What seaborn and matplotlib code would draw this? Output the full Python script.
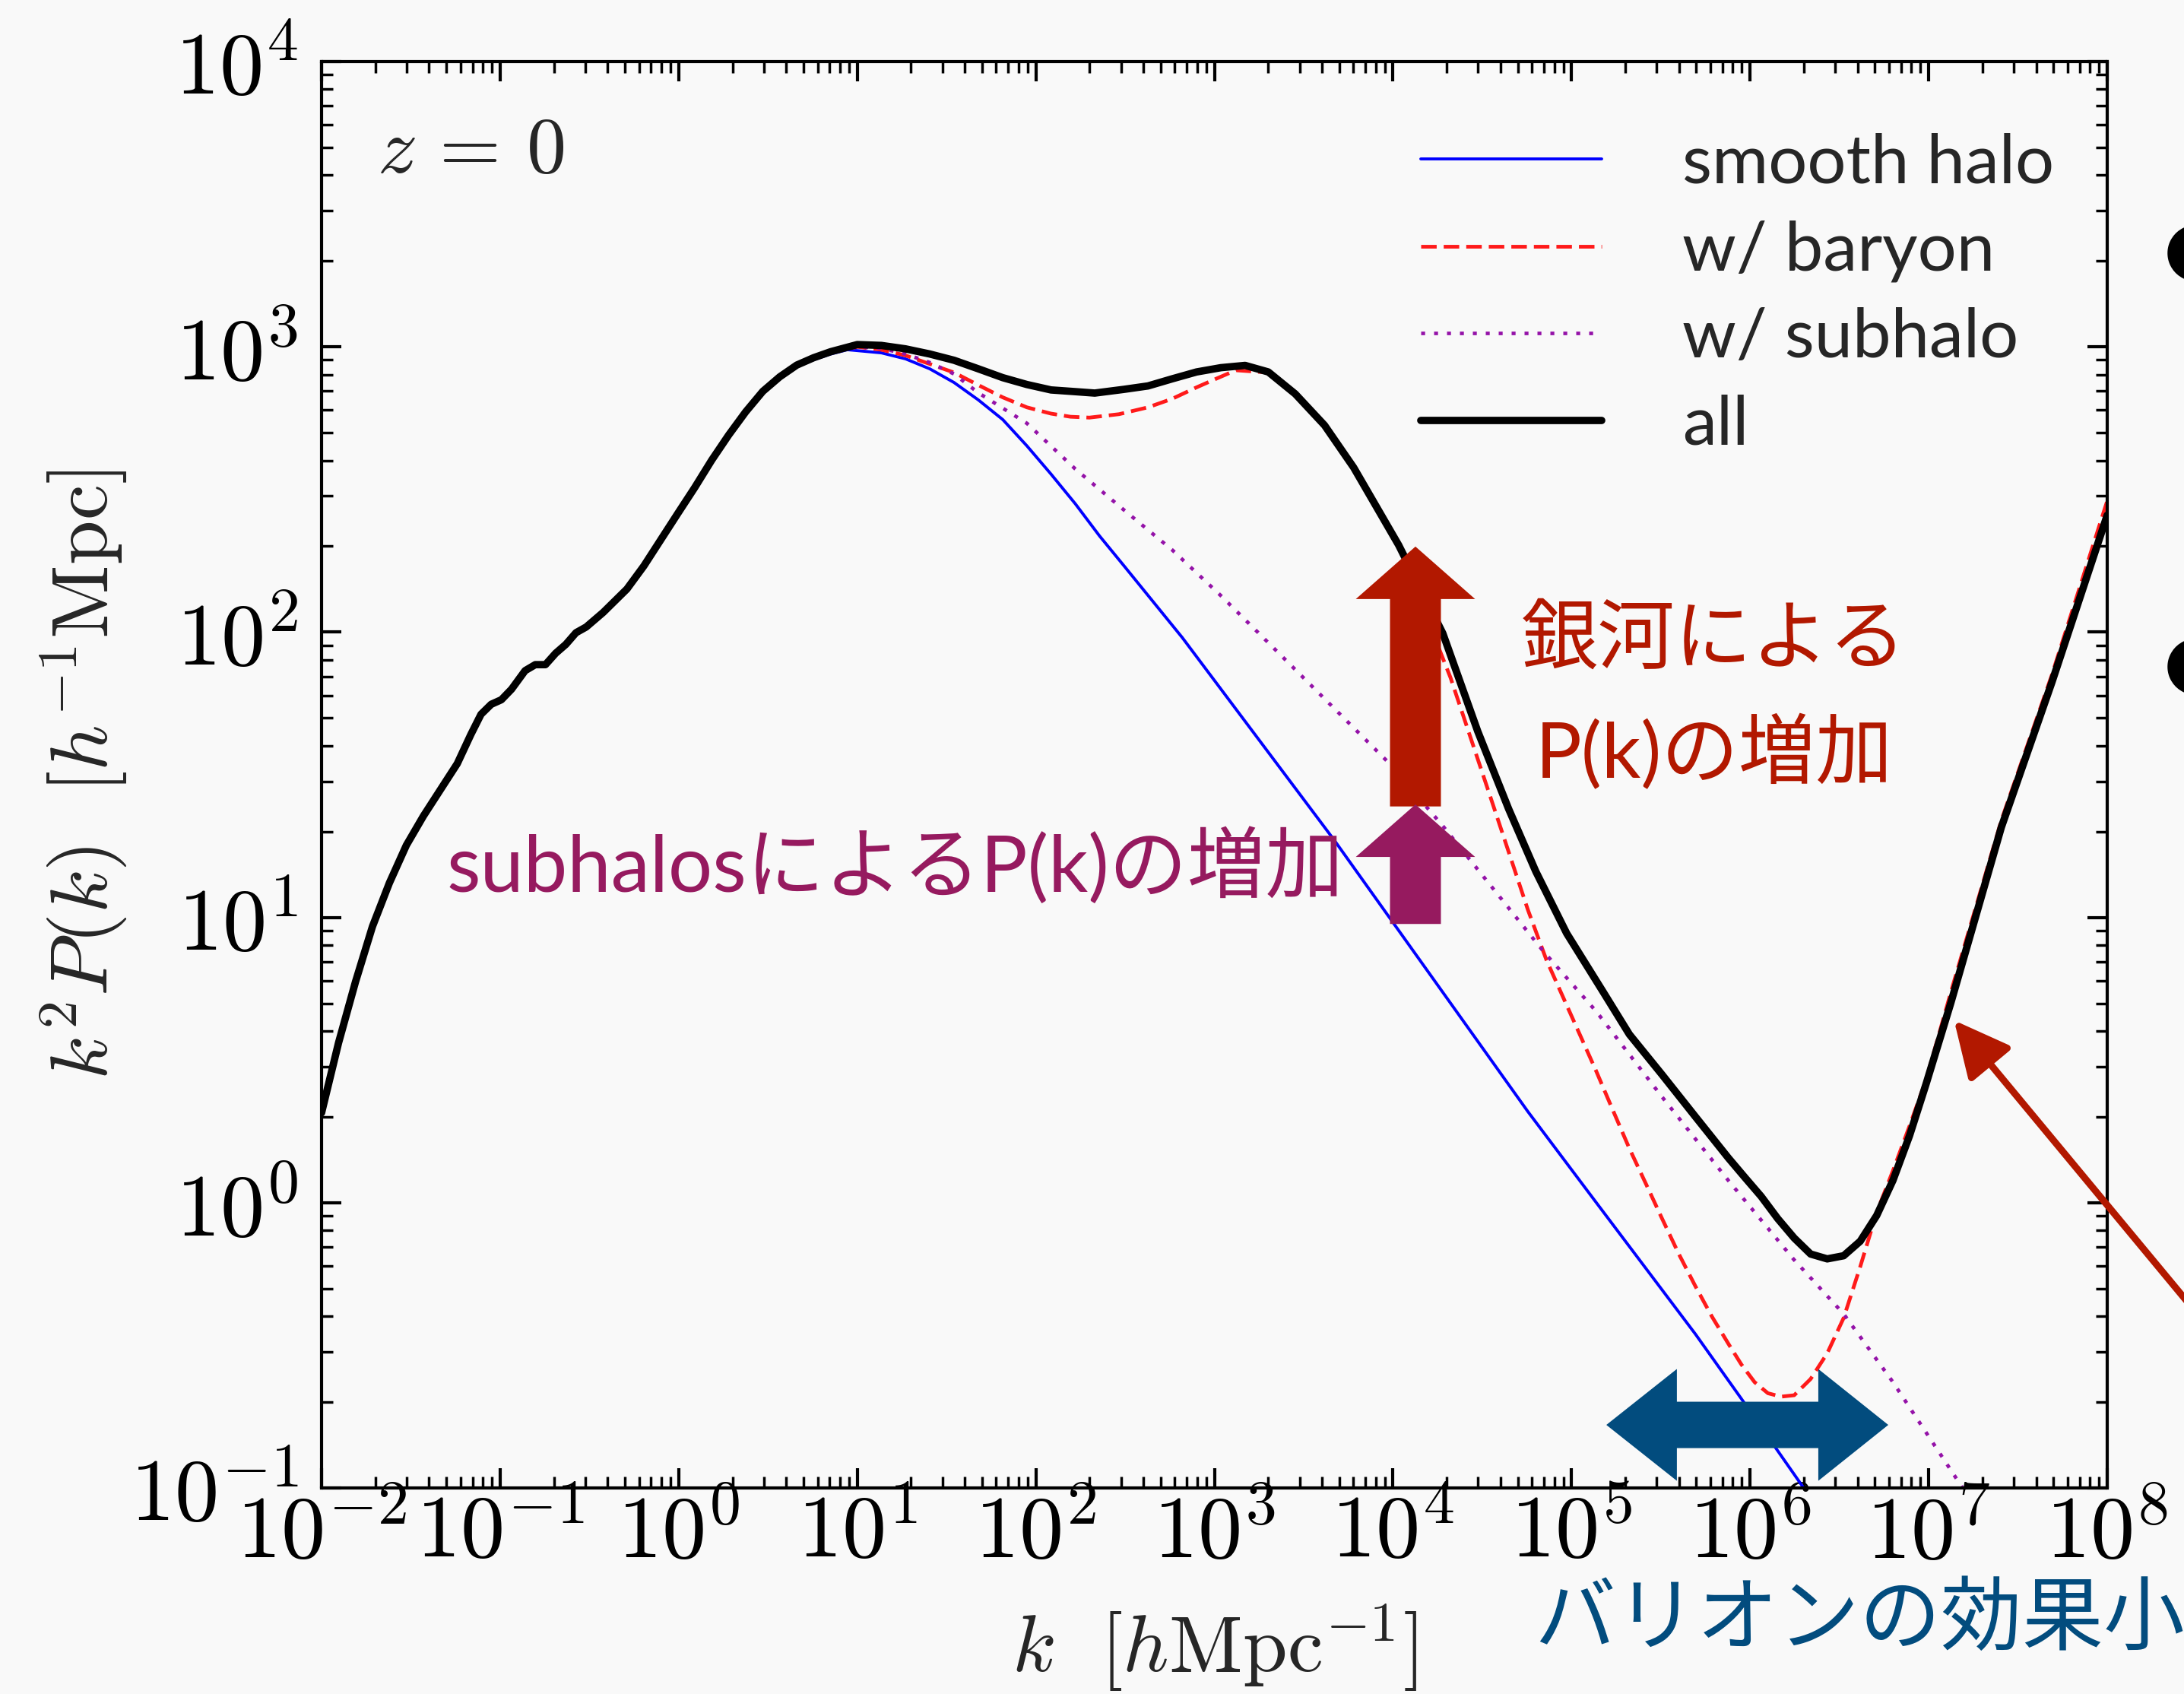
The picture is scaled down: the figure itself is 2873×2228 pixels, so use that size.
import numpy as np
import pandas as pd
import matplotlib
matplotlib.use("Agg")
import matplotlib.pyplot as plt
import seaborn as sns
from matplotlib.patches import Polygon
from matplotlib.ticker import LogLocator, NullFormatter, FuncFormatter

# ---------------------------------------------------------------------------
# Power spectrum curves, stored as log10(k) and log10(k^2 P(k))
# ---------------------------------------------------------------------------
# large-scale part shared by every model
LOGK_LOW = [-2.0, -1.905, -1.81, -1.715, -1.62, -1.525, -1.43, -1.335, -1.24,
            -1.164, -1.107, -1.05, -0.993, -0.936, -0.86, -0.803, -0.746,
            -0.689, -0.632, -0.575, -0.518, -0.423, -0.29, -0.195, -0.10,
            -0.005, 0.09, 0.185, 0.28, 0.375, 0.471]
LOGP_LOW = [0.315, 0.56, 0.774, 0.968, 1.121, 1.253, 1.355, 1.447, 1.539,
            1.641, 1.712, 1.747, 1.763, 1.80, 1.865, 1.886, 1.886,
            1.926, 1.957, 1.998, 2.018, 2.069, 2.151, 2.232, 2.324,
            2.416, 2.507, 2.603, 2.691, 2.772, 2.844]

# smooth halo
LOGK_SMOOTH = [0.566, 0.661, 0.756, 0.851, 0.945, 1.135, 1.27, 1.406, 1.542,
               1.678, 1.815, 1.95, 2.085, 2.221, 2.357, 2.493, 2.628, 2.82,
               3.671, 4.756, 5.139, 5.693, 5.952, 6.30]
LOGP_SMOOTH = [2.89, 2.93, 2.955, 2.975, 2.99, 2.979, 2.958, 2.923, 2.875,
               2.814, 2.745, 2.653, 2.554, 2.45, 2.337, 2.233, 2.129, 1.981,
               1.271, 0.319, 0.0, -0.46, -0.688, -1.0]

# with baryons
LOGK_BARYON = [0.566, 0.661, 0.756, 0.851, 1.0, 1.135, 1.27, 1.406, 1.542,
               1.678, 1.815, 1.95, 2.085, 2.194, 2.30, 2.466, 2.628, 2.764,
               2.90, 3.009, 3.12, 3.302, 3.453, 3.617, 3.78, 3.932, 4.032,
               4.322, 4.54, 4.756, 4.86, 5.139, 5.231, 5.324, 5.416, 5.508,
               5.601, 5.693, 5.786, 5.878, 5.951, 6.025, 6.10, 6.173, 6.247,
               6.339, 6.432, 6.524, 6.617, 6.709, 6.80, 6.893, 6.985, 7.13,
               7.407, 7.69, 8.0]
LOGP_BARYON = [2.895, 2.936, 2.962, 2.98, 3.00, 2.99, 2.97, 2.94, 2.91,
               2.866, 2.823, 2.788, 2.766, 2.755, 2.752, 2.764, 2.788, 2.818,
               2.858, 2.888, 2.918, 2.91, 2.832, 2.722, 2.574, 2.41, 2.30,
               1.841, 1.433, 1.026, 0.85, 0.46, 0.325, 0.19, 0.067, -0.057,
               -0.180, -0.292, -0.399, -0.494, -0.567, -0.629, -0.668, -0.68,
               -0.675, -0.618, -0.528, -0.404, -0.224, -0.034, 0.112, 0.269,
               0.43, 0.75, 1.34, 1.85, 2.46]

# with subhaloes
LOGK_SUBHALO = [0.566, 0.661, 0.756, 0.851, 1.0, 1.135, 1.27, 1.406, 1.542,
                1.678, 1.95, 2.221, 2.49, 2.764, 3.036, 3.236, 3.975, 4.28,
                4.844, 5.139, 5.508, 5.878, 6.246, 6.524, 6.80, 7.19]
LOGP_SUBHALO = [2.895, 2.936, 2.962, 2.98, 3.00, 2.995, 2.975, 2.945, 2.905,
                2.839, 2.732, 2.572, 2.43, 2.288, 2.128, 2.004, 1.543, 1.32,
                0.88, 0.67, 0.37, 0.078, -0.20, -0.39, -0.629, -1.0]

# total
LOGK_ALL = [0.566, 0.661, 0.756, 0.851, 1.0, 1.135, 1.27, 1.406, 1.542, 1.678,
            1.815, 1.95, 2.085, 2.221, 2.33, 2.493, 2.628, 2.764, 2.90, 3.036,
            3.172, 3.302, 3.453, 3.617, 3.78, 3.932, 4.032, 4.279, 4.475,
            4.648, 4.80, 4.973, 5.176, 5.324, 5.508, 5.693, 5.878, 5.970,
            6.062, 6.155, 6.247, 6.339, 6.432, 6.524, 6.617, 6.709, 6.80,
            6.893, 6.985, 7.124, 7.407, 7.69, 8.0]
LOGP_ALL = [2.895, 2.936, 2.962, 2.983, 3.008, 3.005, 2.993, 2.975, 2.953,
            2.923, 2.892, 2.868, 2.849, 2.843, 2.838, 2.851, 2.863, 2.888,
            2.912, 2.927, 2.935, 2.912, 2.835, 2.725, 2.577, 2.413, 2.305,
            1.996, 1.652, 1.38, 1.161, 0.944, 0.74, 0.59, 0.448, 0.302, 0.157,
            0.089, 0.022, -0.056, -0.124, -0.180, -0.197, -0.186, -0.135,
            -0.045, 0.078, 0.235, 0.415, 0.70, 1.316, 1.824, 2.41]

LABELS = ["smooth halo", "w/ baryon", "w/ subhalo", "all"]
COLORS = ["#0000ff", "#ff1a1a", "#9412a8", "#000000"]
WIDTHS = [2.8, 3.5, 3.4, 7.0]
STYLES = ["-", (0, (4.2, 1.9)), (0, (1.1, 2.5)), "-"]

BG = "#f9f9f9"
RED = "#b21800"
PURPLE = "#961a5f"
NAVY = "#024c7e"

W_PX, H_PX, DPI = 2873, 2228, 100


def frame(lk_hi, lp_hi, name):
    lk = np.array(LOGK_LOW + lk_hi)
    lp = np.array(LOGP_LOW + lp_hi)
    return pd.DataFrame({"k": 10.0 ** lk, "P": 10.0 ** lp, "model": name})


df = pd.concat([
    frame(LOGK_SMOOTH, LOGP_SMOOTH, LABELS[0]),
    frame(LOGK_BARYON, LOGP_BARYON, LABELS[1]),
    frame(LOGK_SUBHALO, LOGP_SUBHALO, LABELS[2]),
    frame(LOGK_ALL, LOGP_ALL, LABELS[3]),
], ignore_index=True)

sns.set_theme(style="ticks")
plt.rcParams.update({
    "font.family": ["Lato", "Noto Sans CJK JP", "DejaVu Sans"],
    "mathtext.fontset": "cm",
    "figure.facecolor": BG,
    "axes.facecolor": BG,
    "savefig.facecolor": BG,
    "axes.edgecolor": "black",
    "axes.linewidth": 3.0,
    "xtick.color": "black",
    "ytick.color": "black",
})


def px(x, y):
    """Figure fraction from pixel position measured from the top-left."""
    return x / W_PX, 1.0 - y / H_PX


fig = plt.figure(figsize=(W_PX / DPI, H_PX / DPI), dpi=DPI)
ax = fig.add_axes([423 / W_PX, 1 - 1957 / H_PX, 2349 / W_PX, 1876 / H_PX])
ax.set_xscale("log")
ax.set_yscale("log")

for name, c, lw, ls in zip(LABELS, COLORS, WIDTHS, STYLES):
    sub = df[df["model"] == name]
    sns.lineplot(data=sub, x="k", y="P", ax=ax, color=c, linewidth=lw,
                 linestyle=ls, label=name, estimator=None, sort=False,
                 legend=False)

ax.set_xlim(1e-2, 1e8)
ax.set_ylim(1e-1, 1e4)

fmt = FuncFormatter(lambda v, _: rf"$10^{{{int(round(np.log10(v)))}}}$")
for axis in (ax.xaxis, ax.yaxis):
    axis.set_major_locator(LogLocator(base=10, numticks=30))
    axis.set_minor_locator(LogLocator(base=10, subs=np.arange(2, 10), numticks=300))
    axis.set_major_formatter(fmt)
    axis.set_minor_formatter(NullFormatter())

ax.tick_params(which="both", direction="in", top=True, right=True)
ax.tick_params(which="major", length=19, width=3, labelsize=84)
ax.tick_params(which="minor", length=11, width=2.5)
ax.tick_params(axis="x", which="major", pad=3)
ax.tick_params(axis="y", which="major", pad=22)
for s in ax.spines.values():
    s.set_visible(True)
    s.set_linewidth(3.0)

ax.set_xlabel(r"$k\ \ [h\mathrm{Mpc}^{-1}]$", fontsize=76)
ax.xaxis.set_label_coords(0.5, -0.112)
ax.xaxis.label.set_va("center")
ax.set_ylabel(r"$k^2P(k)\ \ [h^{-1}\mathrm{Mpc}]$", fontsize=76)
ax.yaxis.set_label_coords(-0.133, 0.5)
ax.yaxis.label.set_va("center")

ax.text(0.031, 0.922, r"$z\,=\,0$", transform=ax.transAxes, fontsize=75,
        ha="left", va="baseline")

leg = ax.legend(loc="upper left", bbox_to_anchor=(0.6156, 0.95), frameon=False,
                fontsize=65, handlelength=2.64, handletextpad=1.17,
                labelspacing=0.36, borderpad=0, borderaxespad=0)

# ---------------------------------------------------------------------------
# Annotation arrows (log10 positions on the chart)
# ---------------------------------------------------------------------------
def up_arrow(lk, tip, head, tail, half_shaft, half_head):
    pts = [(lk, tip), (lk + half_head, head), (lk + half_shaft, head),
           (lk + half_shaft, tail), (lk - half_shaft, tail),
           (lk - half_shaft, head), (lk - half_head, head)]
    return [(10 ** a, 10 ** b) for a, b in pts]


def double_arrow(left, left_head, right_head, right, mid, half_shaft, half_head):
    pts = [(left, mid), (left_head, mid + half_head), (left_head, mid + half_shaft),
           (right_head, mid + half_shaft), (right_head, mid + half_head),
           (right, mid), (right_head, mid - half_head),
           (right_head, mid - half_shaft), (left_head, mid - half_shaft),
           (left_head, mid - half_head)]
    return [(10 ** a, 10 ** b) for a, b in pts]


ax.add_patch(Polygon(up_arrow(4.126, 2.300, 2.116, 1.389, 0.1426, 0.334),
                     closed=True, facecolor=RED, edgecolor="none", zorder=6))
ax.add_patch(Polygon(up_arrow(4.126, 1.396, 1.212, 0.977, 0.1426, 0.334),
                     closed=True, facecolor=PURPLE, edgecolor="none", zorder=6))
ax.add_patch(Polygon(double_arrow(5.195, 5.590, 6.382, 6.774, -0.779, 0.0813, 0.196),
                     closed=True, facecolor=NAVY, edgecolor="none", zorder=6))

# slanted pointer coming in from the right margin
ax.annotate("", xy=(2570.5, H_PX - 1342), xycoords="figure pixels",
            xytext=(3000, H_PX - 1860), textcoords="figure pixels",
            arrowprops=dict(arrowstyle="-|>,head_length=0.45,head_width=0.22",
                            mutation_scale=100, color=RED, lw=6.5,
                            shrinkA=0, shrinkB=0),
            annotation_clip=False, zorder=7)

# ---------------------------------------------------------------------------
# Captions
# ---------------------------------------------------------------------------
fig.text(*px(2254, 842), "銀河による", color=RED, fontsize=73,
         ha="center", va="center")
fig.text(*px(2255, 990), "P(k)の増加", color=RED, fontsize=73,
         ha="center", va="center")
fig.text(*px(1768, 1140), "subhalosによるP(k)の増加", color=PURPLE, fontsize=74,
         ha="right", va="center")
fig.text(*px(2018, 2131), "バリオンの効果小", color=NAVY, fontsize=77,
         ha="left", va="center")

for yb in (332, 875):
    fig.text(*px(2846, yb), "●", color="black", fontsize=70,
             family=["DejaVu Sans"], ha="left", va="center")

fig.savefig("out.png", dpi=DPI)
